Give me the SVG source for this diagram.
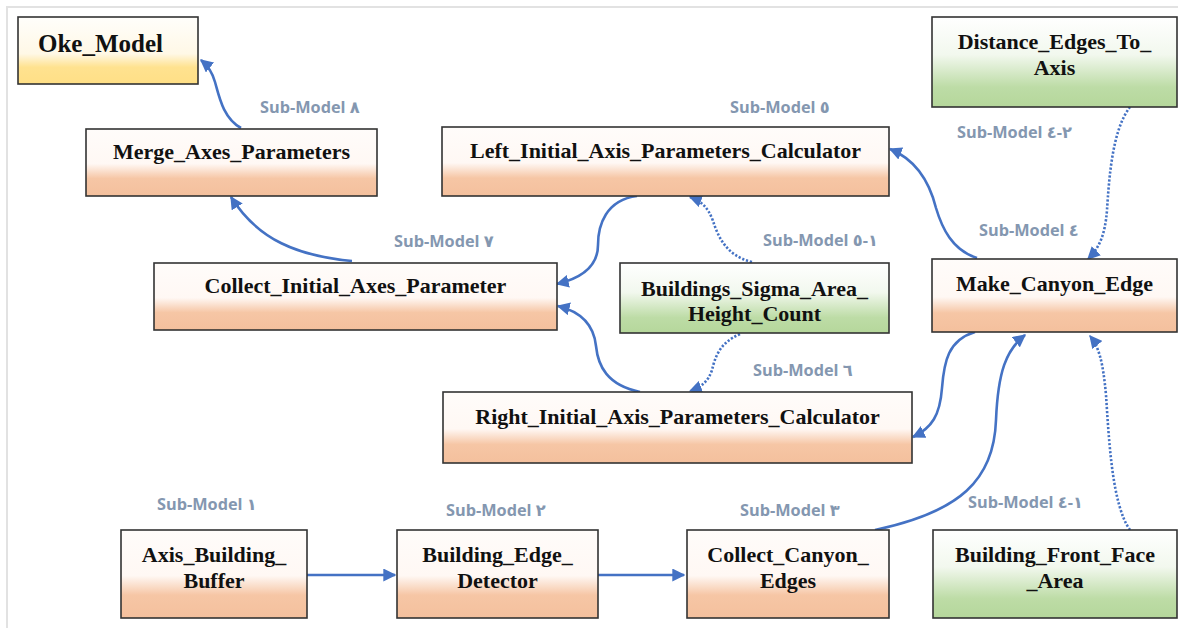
<svg xmlns="http://www.w3.org/2000/svg" width="1178" height="628" viewBox="0 0 1178 628">
<style>
.box{stroke:#333;stroke-width:1.6}
.nt{font-family:"Liberation Serif","Times New Roman",serif;font-weight:bold;font-size:22px;fill:#111;text-anchor:middle}
.lb{font-family:"Open Sans","DejaVu Sans",sans-serif;font-weight:bold;font-size:16.3px;fill:#8497B0;direction:ltr;unicode-bidi:bidi-override}
.c{fill:none;stroke:#4472C4;stroke-width:2.6}
.d{fill:none;stroke:#4472C4;stroke-width:2.6;stroke-dasharray:2.2 1.8}
</style>
<defs>
<linearGradient id="go" x1="0" y1="0" x2="0" y2="1">
<stop offset="0" stop-color="#FFFCFA"/><stop offset="0.52" stop-color="#FFF8F4"/><stop offset="0.74" stop-color="#F6C6A5"/><stop offset="1" stop-color="#F4C09D"/>
</linearGradient>
<linearGradient id="gg" x1="0" y1="0" x2="0" y2="1">
<stop offset="0" stop-color="#FFFFFF"/><stop offset="0.42" stop-color="#F2F8EE"/><stop offset="0.78" stop-color="#BDDCA6"/><stop offset="1" stop-color="#B5D79B"/>
</linearGradient>
<linearGradient id="gy" x1="0" y1="0" x2="0" y2="1">
<stop offset="0" stop-color="#FFFEFB"/><stop offset="0.55" stop-color="#FFF8E6"/><stop offset="0.75" stop-color="#FFE28F"/><stop offset="1" stop-color="#FFDF86"/>
</linearGradient>
<marker id="ah" viewBox="0 0 10 10" refX="9" refY="5" markerWidth="13" markerHeight="13" markerUnits="userSpaceOnUse" orient="auto">
<path d="M0,0 L10,5 L0,10 z" fill="#4472C4"/>
</marker>
</defs>
<rect width="1178" height="628" fill="#fff"/>
<path d="M7,628 V7 H1178" fill="none" stroke="#E2E2E2" stroke-width="2"/>

<g id="connectors">
<path class="c" d="M307,575 H395" marker-end="url(#ah)"/>
<path class="c" d="M598,575 H684" marker-end="url(#ah)"/>
<path class="c" d="M875,530 C960,512 994,480 996,420 C998,372 1006,350 1025,335" marker-end="url(#ah)"/>
<path class="d" d="M1130,530 C1112,505 1109,440 1106,395 C1103,362 1099,347 1090,336" marker-end="url(#ah)"/>
<path class="d" d="M1130,107 C1112,130 1109,180 1107,210 C1105,236 1099,248 1088,259" marker-end="url(#ah)"/>
<path class="c" d="M975,332 C948,340 944,362 942,388 C940,415 932,428 913,437" marker-end="url(#ah)"/>
<path class="c" d="M977,258 C952,250 942,228 936,208 C928,176 912,158 890,149" marker-end="url(#ah)"/>
<path class="c" d="M637,196 C606,200 598,225 598,245 C598,266 582,278 557,284" marker-end="url(#ah)"/>
<path class="c" d="M640,392 C607,385 598,366 596,346 C594,326 582,312 558,306" marker-end="url(#ah)"/>
<path class="d" d="M752,262 C726,256 718,236 713,221 C708,207 701,201 690,197" marker-end="url(#ah)"/>
<path class="d" d="M740,334 C719,343 715,358 712,370 C708,382 701,387 690,391" marker-end="url(#ah)"/>
<path class="c" d="M352,261 C298,256 258,240 231,197" marker-end="url(#ah)"/>
<path class="c" d="M241,128 C223,118 219,96 215,82 C212,71 207,65 201,60" marker-end="url(#ah)"/>
</g>

<g id="labels">
<text class="lb" x="260" y="113">Sub-Model ٨</text>
<text class="lb" x="730" y="113">Sub-Model ٥</text>
<text class="lb" x="394" y="247">Sub-Model ٧</text>
<text class="lb" x="763" y="246">Sub-Model ٥-١</text>
<text class="lb" x="957" y="138">Sub-Model ٤-٢</text>
<text class="lb" x="979" y="236">Sub-Model ٤</text>
<text class="lb" x="753" y="376">Sub-Model ٦</text>
<text class="lb" x="157" y="510">Sub-Model ١</text>
<text class="lb" x="446" y="516">Sub-Model ٢</text>
<text class="lb" x="740" y="516">Sub-Model ٣</text>
<text class="lb" x="968" y="508">Sub-Model ٤-١</text>
</g>

<g id="oke_model">
<rect class="box" x="18" y="17" width="180" height="67" fill="url(#gy)"/>
<text class="nt" x="38" y="52" style="text-anchor:start;font-size:25px">Oke_Model</text>
</g>
<g id="merge_axes_parameters">
<rect class="box" x="86" y="129" width="291" height="67" fill="url(#go)"/>
<text class="nt" x="231.5" y="159">Merge_Axes_Parameters</text>
</g>
<g id="left_initial">
<rect class="box" x="442" y="127" width="447" height="69" fill="url(#go)"/>
<text class="nt" x="665.5" y="158">Left_Initial_Axis_Parameters_Calculator</text>
</g>
<g id="collect_initial">
<rect class="box" x="154" y="263" width="403" height="67" fill="url(#go)"/>
<text class="nt" x="355.5" y="293">Collect_Initial_Axes_Parameter</text>
</g>
<g id="buildings_sigma">
<rect class="box" x="620" y="263" width="269" height="70" fill="url(#gg)"/>
<text class="nt" x="754.5" y="296">Buildings_Sigma_Area_</text>
<text class="nt" x="754.5" y="321">Height_Count</text>
</g>
<g id="make_canyon_edge">
<rect class="box" x="932" y="259" width="245" height="73" fill="url(#go)"/>
<text class="nt" x="1054.5" y="291">Make_Canyon_Edge</text>
</g>
<g id="distance_edges">
<rect class="box" x="932" y="17" width="245" height="90" fill="url(#gg)"/>
<text class="nt" x="1054.5" y="49">Distance_Edges_To_</text>
<text class="nt" x="1054.5" y="75">Axis</text>
</g>
<g id="right_initial">
<rect class="box" x="443" y="392" width="469" height="71" fill="url(#go)"/>
<text class="nt" x="677.5" y="424">Right_Initial_Axis_Parameters_Calculator</text>
</g>
<g id="axis_building_buffer">
<rect class="box" x="121" y="530" width="186" height="88" fill="url(#go)"/>
<text class="nt" x="214" y="562">Axis_Building_</text>
<text class="nt" x="214" y="588">Buffer</text>
</g>
<g id="building_edge_detector">
<rect class="box" x="397" y="530" width="201" height="88" fill="url(#go)"/>
<text class="nt" x="497.5" y="562">Building_Edge_</text>
<text class="nt" x="497.5" y="588">Detector</text>
</g>
<g id="collect_canyon_edges">
<rect class="box" x="687" y="530" width="202" height="88" fill="url(#go)"/>
<text class="nt" x="788" y="562">Collect_Canyon_</text>
<text class="nt" x="788" y="588">Edges</text>
</g>
<g id="building_front_face">
<rect class="box" x="933" y="530" width="244" height="88" fill="url(#gg)"/>
<text class="nt" x="1055" y="562">Building_Front_Face</text>
<text class="nt" x="1055" y="588">_Area</text>
</g>
</svg>
